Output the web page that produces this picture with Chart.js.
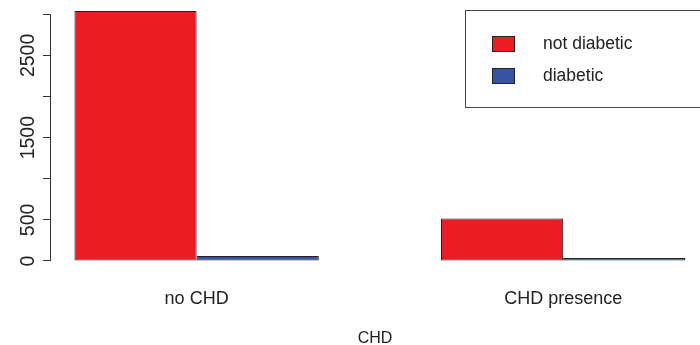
<!DOCTYPE html>
<html>
<head>
<meta charset="utf-8">
<script src="https://cdn.jsdelivr.net/npm/chart.js@4.4.1/dist/chart.umd.min.js"></script>
<style>
html,body{margin:0;padding:0;background:#fff;overflow:hidden;}
#wrap{width:700px;height:345px;}
</style>
</head>
<body>
<div id="wrap"><canvas id="c" width="700" height="345"></canvas></div>
<script>
// ---- data ----
const categories = ['no CHD', 'CHD presence'];
const seriesNames = ['not diabetic', 'diabetic'];
const notDiabetic = [3040, 517];
const diabetic = [60, 35];
const yTickValues = [0, 500, 1000, 1500, 2000, 2500, 3000];
const yTickLabels = ['0', '500', '', '1500', '', '2500', ''];
const xAxisTitle = 'CHD';

// ---- styling ----
const RED = '#ED1C24';
const BLUE = '#3953A4';
const EDGE = '#222222';
const TEXT = '#222222';
const FONT = "'Liberation Sans', Arial, sans-serif";

// R barplot layout: group i occupies units [1+3i, 3+3i], center 2+3i
const groupCenter = i => 2 + 3 * i;

const datasets = [notDiabetic, diabetic].map((vals, s) => ({
  label: seriesNames[s],
  data: vals.map((v, i) => ({x: groupCenter(i), y: v})),
  backgroundColor: s === 0 ? RED : BLUE,
  borderColor: EDGE,
  borderWidth: 1,
  borderSkipped: false,
  categoryPercentage: 2 / 3,
  barPercentage: 1
}));

const axisLinePlugin = {
  id: 'axisLine',
  afterDraw(chart) {
    const ctx = chart.ctx;
    const y = chart.scales.y;
    const x0 = chart.chartArea.left;
    ctx.save();
    ctx.strokeStyle = '#333';
    ctx.lineWidth = 1;
    ctx.beginPath();
    ctx.moveTo(x0 + 0.5, y.getPixelForValue(yTickValues[0]));
    ctx.lineTo(x0 + 0.5, y.getPixelForValue(yTickValues[yTickValues.length - 1]));
    ctx.stroke();
    ctx.restore();
  }
};

const legendBoxPlugin = {
  id: 'legendBox',
  afterDraw(chart) {
    const ctx = chart.ctx;
    ctx.save();
    ctx.strokeStyle = '#444';
    ctx.lineWidth = 1;
    ctx.strokeRect(465.5, 10.5, 240, 97);
    chart.data.datasets.forEach((ds, i) => {
      const yTop = 36 + i * 32;
      ctx.fillStyle = ds.backgroundColor;
      ctx.fillRect(492, yTop, 23, 16);
      ctx.strokeStyle = EDGE;
      ctx.strokeRect(492.5, yTop + 0.5, 22, 15);
      ctx.fillStyle = TEXT;
      ctx.font = '17.5px ' + FONT;
      ctx.textBaseline = 'middle';
      ctx.textAlign = 'left';
      ctx.fillText(ds.label, 543, yTop + 8);
    });
    ctx.restore();
  }
};

new Chart(document.getElementById('c'), {
  type: 'bar',
  data: {datasets},
  options: {
    responsive: false,
    animation: false,
    layout: {padding: {top: 1, left: 0, right: 0, bottom: 0}},
    plugins: {legend: {display: false}, tooltip: {enabled: false}},
    scales: {
      x: {
        type: 'linear',
        offset: false,
        min: 0.8,
        max: 6.12,
        grid: {display: false, offset: false},
        border: {display: false},
        afterBuildTicks: s => { s.ticks = categories.map((c, i) => ({value: groupCenter(i)})); },
        ticks: {
          color: TEXT,
          font: {family: FONT, size: 18},
          padding: 9,
          autoSkip: false,
          maxRotation: 0,
          callback: (v, i) => categories[i]
        },
        title: {
          display: true,
          text: xAxisTitle,
          color: TEXT,
          font: {family: FONT, size: 16},
          padding: {top: 0, bottom: -3}
        },
        afterFit: s => { s.height = 74; s.paddingLeft = 0; s.paddingRight = 0; }
      },
      y: {
        min: -122,
        max: 3162,
        grid: {drawOnChartArea: false, drawTicks: true, tickLength: 7, color: '#333'},
        border: {display: false},
        afterBuildTicks: s => { s.ticks = yTickValues.map(v => ({value: v})); },
        ticks: {
          color: TEXT,
          font: {family: FONT, size: 19.5},
          padding: -7,
          minRotation: 90,
          maxRotation: 90,
          crossAlign: 'center',
          autoSkip: false,
          callback: (v, i) => yTickLabels[i]
        },
        afterFit: s => { s.width = 50; s.paddingTop = 0; s.paddingBottom = 0; }
      }
    }
  },
  plugins: [axisLinePlugin, legendBoxPlugin]
});
</script>
</body>
</html>
